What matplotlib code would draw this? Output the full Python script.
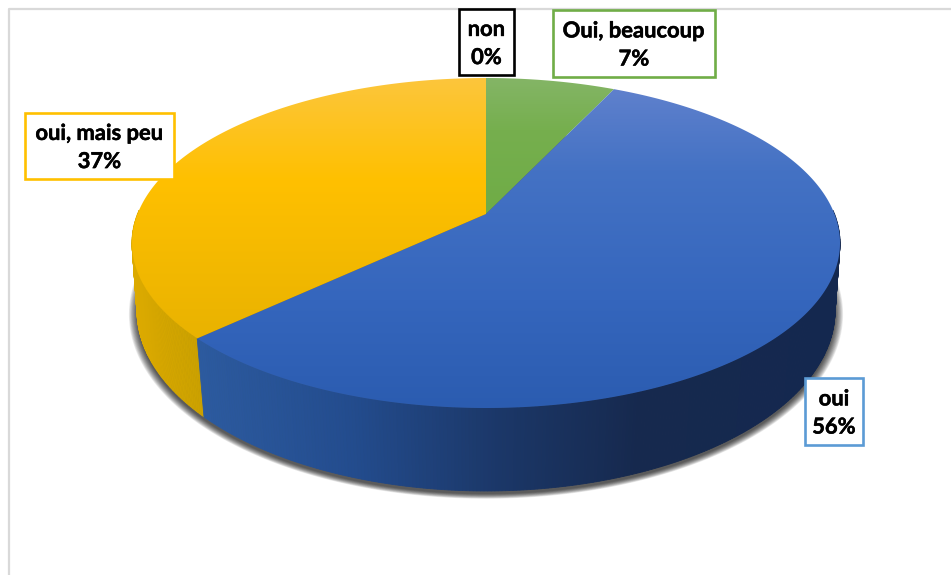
import numpy as np
import matplotlib
matplotlib.use("Agg")
import matplotlib.pyplot as plt
import matplotlib.patheffects as pe
from matplotlib.colors import LinearSegmentedColormap, to_rgb
from matplotlib.patches import Polygon, Rectangle
from matplotlib.lines import Line2D

# Data (clockwise from 12 o'clock)
categories = ["Oui, beaucoup", "oui", "oui, mais peu", "non"]
values = [7, 56, 37, 0]
value_labels = ["7%", "56%", "37%", "0%"]

# Style
box_colors = ["#70ad47", "#5b9bd5", "#ffc000", "#000000"]
box_rects = [(553, 10, 715, 77), (805, 378, 863, 445), (25, 113, 174, 179), (459, 9, 514, 75)]
top_grad = [
    [(78, "#84b566"), (130, "#76af4e"), (214, "#6fac46")],
    [(85, "#6081cd"), (170, "#4472c4"), (300, "#3566bd"), (410, "#2b5cb0")],
    [(78, "#fcc63c"), (180, "#ffc000"), (345, "#e8b200")],
    [(78, "#000000"), (345, "#000000")],
]
wall_stops = [
    [(500, "#4c7a30"), (640, "#3f6a28")],
    [(200, "#2c5a9f"), (350, "#234c8e"), (500, "#1b3768"), (640, "#16294e"), (840, "#14284f")],
    [(133, "#dcaa00"), (205, "#c9a000")],
    [(133, "#000000"), (840, "#000000")],
]

W, H = 951, 575
fig = plt.figure(figsize=(W / 100, H / 100), dpi=100, facecolor="white")
ax = fig.add_axes([0, 0, 1, 1])
ax.axis("off")

CX = 486.0
K = 0.1758
K2 = 0.16


def top_xy(theta):
    u, v = np.sin(theta), np.cos(theta)
    d = 1 + K * v
    return CX + 348.5 * u / d, 214 - 159.9 * v / d


def bot_xy(theta, grow=0.0, dy=0.0):
    u, v = np.sin(theta), np.cos(theta)
    d = 1 + K2 * v
    return CX + (344.5 + grow) * u / d, 281.8 + dy - (175.7 + grow * 0.5) * v / d


# Frame
ax.add_line(Line2D([9, 9, W], [H, 9, 9], color="#d9d9d9", lw=1.6, zorder=1))

# Shadow
full = np.linspace(0, 2 * np.pi, 361)
for g in np.linspace(8, 0, 12):
    ax.add_patch(Polygon(np.column_stack(bot_xy(full, g, 3.0)), fc="black", ec="none", alpha=0.08, zorder=2))

# Slice angles come from the values
fracs = np.array(values, dtype=float) / sum(values)
edges = np.concatenate([[0], np.cumsum(fracs)]) * 2 * np.pi

# Side wall (front-facing part only)
quads = []
for i in range(len(values)):
    if values[i] == 0:
        continue
    n = max(2, int(np.degrees(edges[i + 1] - edges[i]) * 2))
    th = np.linspace(edges[i], edges[i + 1], n + 1)
    xs, cs = zip(*wall_stops[i])
    rgb = np.array([to_rgb(c) for c in cs])
    for a, b in zip(th[:-1], th[1:]):
        if np.cos((a + b) / 2) > 0.02:
            continue
        xa, ya = top_xy(a)
        xb, yb = top_xy(b)
        xc, yc = bot_xy(b)
        xd, yd = bot_xy(a)
        xm = (xa + xb) / 2
        col = [np.interp(xm, xs, rgb[:, k]) for k in range(3)]
        quads.append((np.cos((a + b) / 2), [(xa, ya), (xb, yb), (xc, yc), (xd, yd)], col))
for _, pts, col in sorted(quads, key=lambda q: -q[0]):
    ax.add_patch(Polygon(pts, fc=col, ec=col, lw=0.6, zorder=3))

# Top face with vertical gradients
for i in range(len(values)):
    if values[i] == 0:
        continue
    th = np.linspace(edges[i], edges[i + 1], 300)
    x, y = top_xy(th)
    pts = np.vstack([[top_xy(0.0)[0], 214], np.column_stack([x, y])])
    poly = Polygon(pts, fc="none", ec="none", transform=ax.transData)
    ax.add_patch(poly)
    ys, cs = zip(*top_grad[i])
    y0, y1 = ys[0], ys[-1]
    cmap = LinearSegmentedColormap.from_list(
        "g", [((yy - y0) / (y1 - y0), c) for yy, c in zip(ys, cs)]
    )
    im = ax.imshow(
        np.linspace(0, 1, 256).reshape(-1, 1), cmap=cmap, aspect="auto",
        extent=(100, 860, y1, y0), zorder=4, interpolation="bilinear",
    )
    im.set_clip_path(poly)

# Labels
for name, val, col, (x0, y0, x1, y1) in zip(categories, value_labels, box_colors, box_rects):
    ax.add_patch(Rectangle((x0, y0), x1 - x0, y1 - y0, fc="white", ec=col, lw=1.9, zorder=5))
    t = ax.text((x0 + x1) / 2, (y0 + y1) / 2 + 1.5, f"{name}\n{val}", ha="center", va="center",
                fontsize=15.8, fontweight="bold", family="Lato", color="black",
                linespacing=1.42, zorder=6)
    t.set_path_effects([pe.withStroke(linewidth=0.35, foreground="black")])

ax.set_xlim(0, W)
ax.set_ylim(H, 0)
fig.savefig("out.png", dpi=100)
